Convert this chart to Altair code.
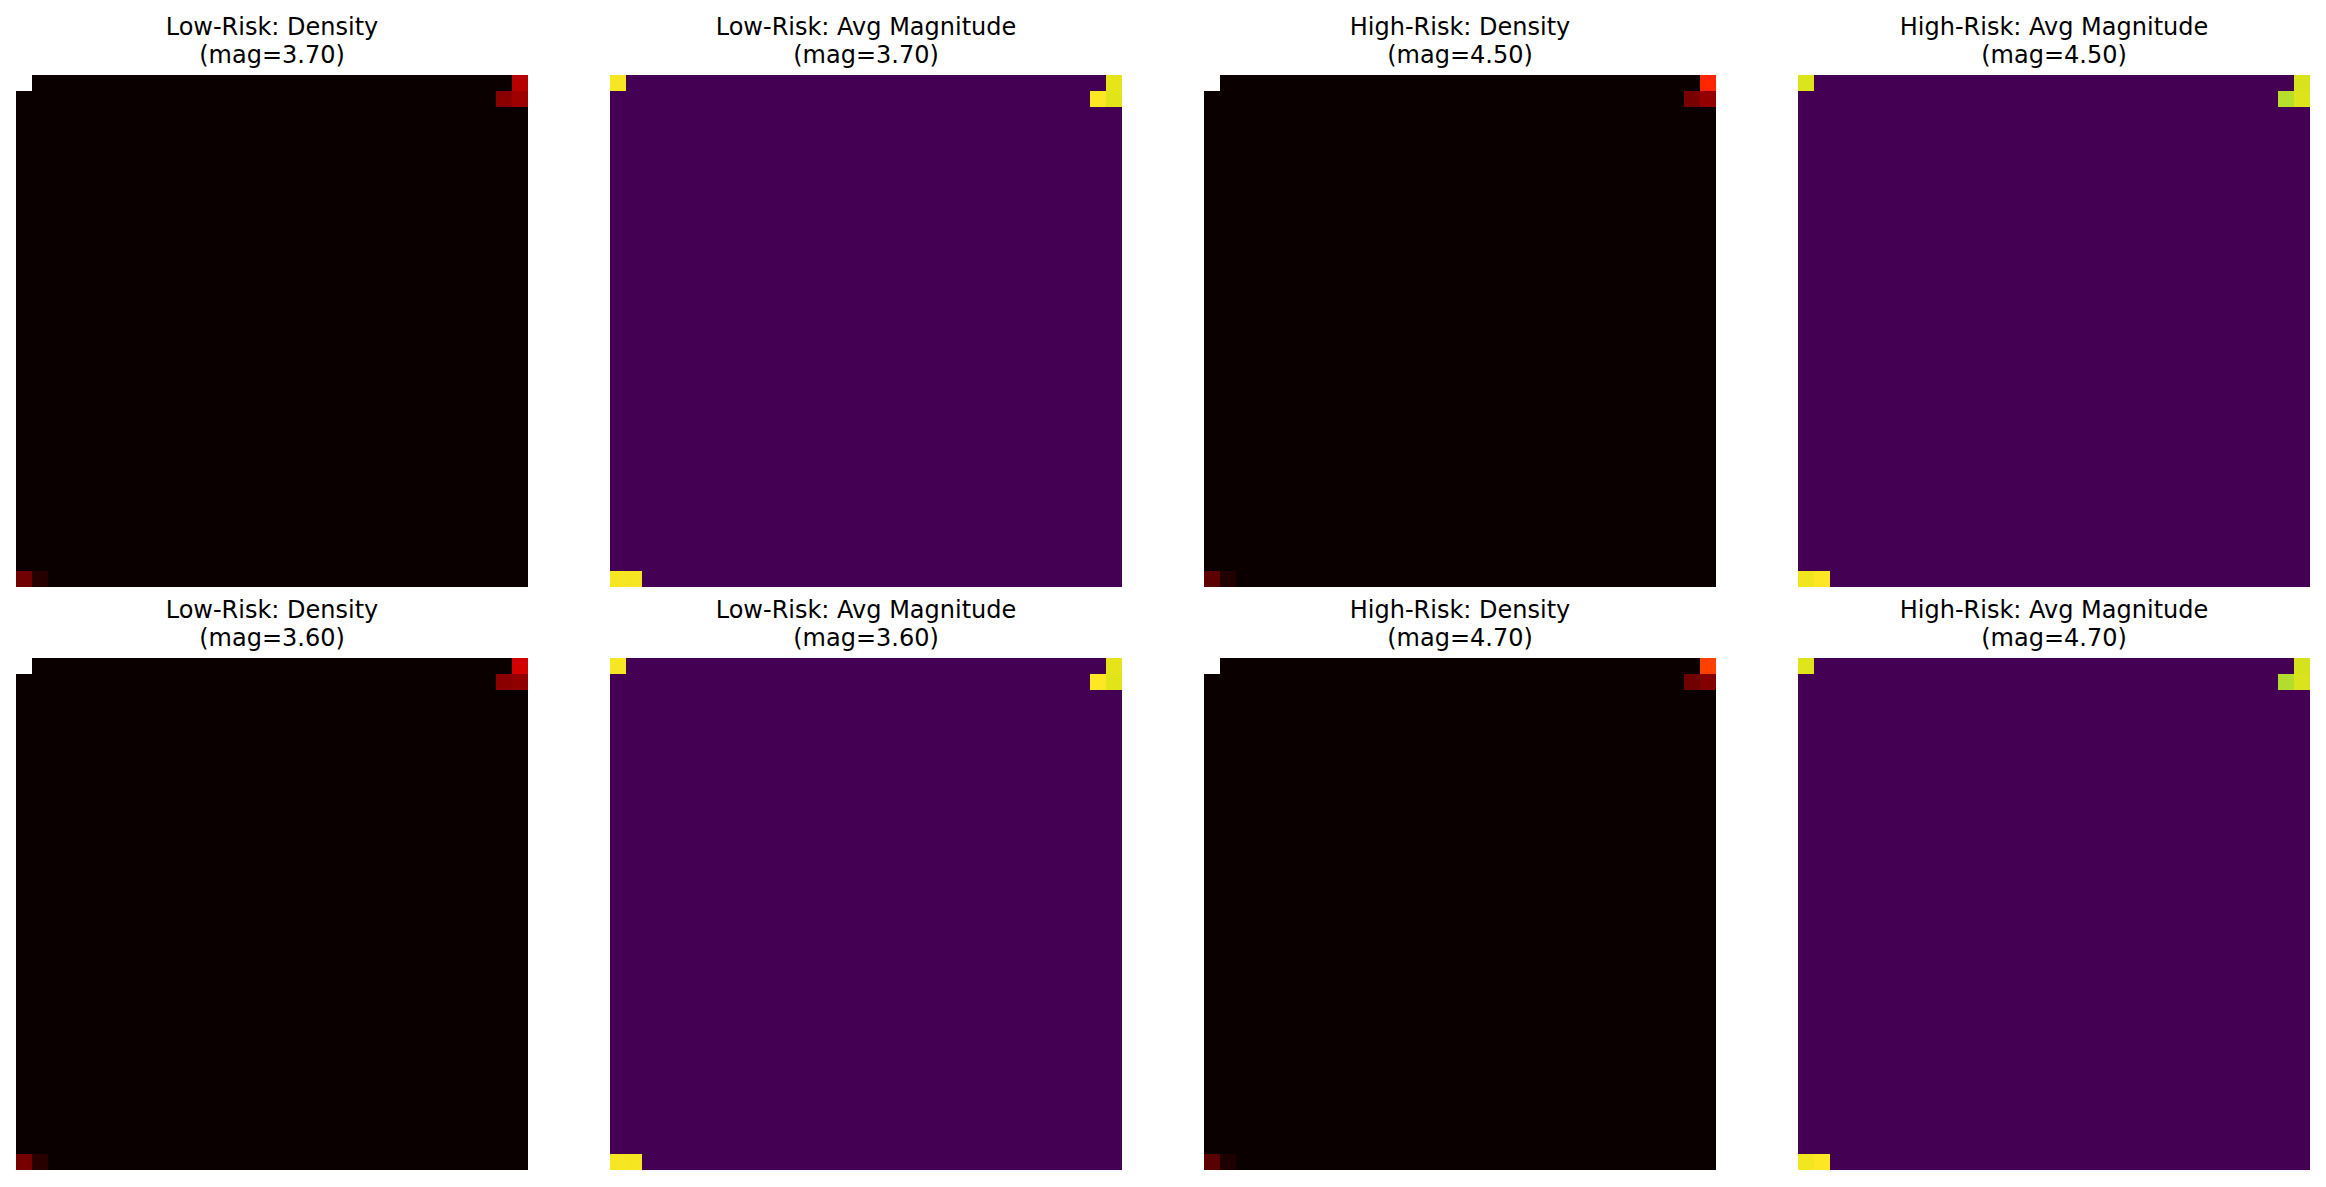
import altair as alt
import pandas as pd

N = 32  # grid size (32 x 32 bins)

# Titles for each panel (row-major, 2 rows x 4 columns)
title_main = [
    "Low-Risk: Density", "Low-Risk: Avg Magnitude", "High-Risk: Density", "High-Risk: Avg Magnitude",
    "Low-Risk: Density", "Low-Risk: Avg Magnitude", "High-Risk: Density", "High-Risk: Avg Magnitude",
]
title_mag = [
    "(mag=3.70)", "(mag=3.70)", "(mag=4.50)", "(mag=4.50)",
    "(mag=3.60)", "(mag=3.60)", "(mag=4.70)", "(mag=4.70)",
]
panel_kind = ["density", "mag", "density", "mag", "density", "mag", "density", "mag"]

# Non-empty bins per panel: (row, col, value); every other bin is 0
# density values are normalised to the panel maximum
cells_p1 = [(0, 0, 1.00), (0, 31, 0.258), (1, 30, 0.190), (1, 31, 0.220), (31, 0, 0.152), (31, 1, 0.040)]
cells_p2 = [(0, 0, 4.08), (0, 31, 3.96), (1, 30, 4.12), (1, 31, 3.94), (31, 0, 4.08), (31, 1, 4.07)]
cells_p3 = [(0, 0, 1.00), (0, 31, 0.420), (1, 30, 0.165), (1, 31, 0.205), (31, 0, 0.122), (31, 1, 0.032)]
cells_p4 = [(0, 0, 4.80), (0, 31, 4.76), (1, 30, 4.50), (1, 31, 4.80), (31, 0, 4.95), (31, 1, 5.05)]
cells_p5 = [(0, 0, 1.00), (0, 31, 0.300), (1, 30, 0.190), (1, 31, 0.200), (31, 0, 0.160), (31, 1, 0.045)]
cells_p6 = [(0, 0, 3.98), (0, 31, 3.86), (1, 30, 4.02), (1, 31, 3.84), (31, 0, 3.98), (31, 1, 3.97)]
cells_p7 = [(0, 0, 1.00), (0, 31, 0.460), (1, 30, 0.150), (1, 31, 0.180), (31, 0, 0.118), (31, 1, 0.030)]
cells_p8 = [(0, 0, 4.98), (0, 31, 4.90), (1, 30, 4.62), (1, 31, 4.93), (31, 0, 5.12), (31, 1, 5.22)]
all_cells = [cells_p1, cells_p2, cells_p3, cells_p4, cells_p5, cells_p6, cells_p7, cells_p8]

# matplotlib "hot" colormap as a piecewise scale
hot_domain = [0, 0.365079, 0.746032, 1.0]
hot_range = ["#0b0000", "#ff0000", "#ffff00", "#ffffff"]

PW, PH = 512, 512


def make_df(cells, field):
    vals = {(r, c): v for r, c, v in cells}
    rows = []
    for r in range(N):
        for c in range(N):
            rows.append({"r": r, "c": c, field: vals.get((r, c), 0.0)})
    return pd.DataFrame(rows)


def panel(i):
    field = f"v{i}"
    df = make_df(all_cells[i], field)
    if panel_kind[i] == "density":
        sc = alt.Scale(domain=hot_domain, range=hot_range, interpolate="rgb")
    else:
        vmax = max(v for _, _, v in all_cells[i])
        sc = alt.Scale(scheme="viridis", domain=[0, vmax])
    bandx = alt.Scale(paddingInner=0, paddingOuter=0)
    bandy = alt.Scale(paddingInner=0, paddingOuter=0)
    return (
        alt.Chart(df)
        .mark_rect()
        .encode(
            x=alt.X("c:O", axis=None, scale=bandx),
            y=alt.Y("r:O", axis=None, scale=bandy),
            color=alt.Color(f"{field}:Q", scale=sc, legend=None),
        )
        .properties(
            width=PW,
            height=PH,
            title=alt.TitleParams(
                text=[title_main[i], title_mag[i]],
                font="DejaVu Sans",
                fontSize=24,
                fontWeight="normal",
                lineHeight=28,
                color="black",
                anchor="middle",
                baseline="bottom",
                offset=-17,
            ),
        )
    )


row1 = alt.hconcat(*[panel(i) for i in range(4)], spacing=82).resolve_scale(
    color="independent", x="independent", y="independent")
row2 = alt.hconcat(*[panel(i) for i in range(4, 8)], spacing=82).resolve_scale(
    color="independent", x="independent", y="independent")

chart = (
    alt.vconcat(row1, row2, spacing=12)
    .resolve_scale(color="independent", x="independent", y="independent")
    .properties(padding={"left": 16, "top": 16, "right": 15, "bottom": 5}, background="white")
    .configure_view(stroke=None)
)

chart.save("out.html", embed_options={"renderer": "svg", "actions": False})
